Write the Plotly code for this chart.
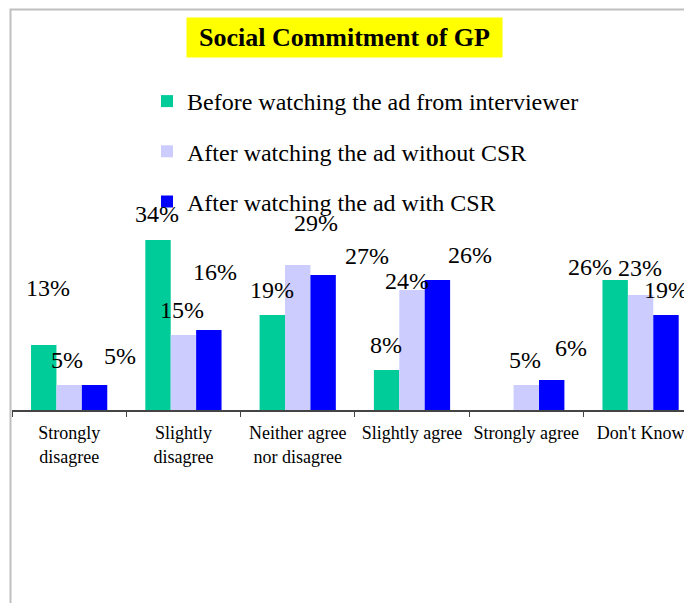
import plotly.graph_objects as go

categories = ["Strongly<br>disagree", "Slightly<br>disagree", "Neither agree<br>nor disagree",
              "Slightly agree", "Strongly agree", "Don't Know"]
series_names = ["Before watching the ad from interviewer",
                "After watching the ad without CSR",
                "After watching the ad with CSR"]
before_vals = [13, 34, 19, 8, 0, 26]
without_csr_vals = [5, 15, 29, 24, 5, 23]
with_csr_vals = [5, 16, 27, 26, 6, 19]

colors = ["#00CC99", "#CCCCFF", "#0000FF"]
# label offsets (px) relative to each bar's top-centre: (dx, dy up)
label_offsets = [
    [(4, 57), (-1, 26), (0, 25), (-1, 25), None, (-25, 13)],
    [(-2, 25), (-1, 25), (18, 42), (-5, 9), (-1, 25), (-1, 27)],
    [(25, 29), (6, 58), (44, 19), (33, 25), (19, 32), (0, 25)],
]

FONT = "Liberation Serif, Times New Roman, serif"
W, H = 692, 603
PAGE_OFF = 8  # default body margin of the html page
ML, MR, MT, MB = 12 - PAGE_OFF, PAGE_OFF, 60 - PAGE_OFF, 193 + PAGE_OFF
BARGAP = 0.333
XR = [-0.5, 5.45]
YR = [0, 70]
plot_w = W - ML - MR
plot_h = H - MT - MB
unit_px = plot_w / (XR[1] - XR[0])
bar_w = unit_px * (1 - BARGAP) / 3

all_vals = [before_vals, without_csr_vals, with_csr_vals]

fig = go.Figure()
for k, (name, vals) in enumerate(zip(series_names, all_vals)):
    fig.add_trace(go.Bar(
        x=categories, y=vals, name=name, legendgroup=f"g{k}",
        marker=dict(color=colors[k], line=dict(width=0)),
    ))

annotations = []
for k, vals in enumerate(all_vals):
    for i, v in enumerate(vals):
        off = label_offsets[k][i]
        if off is None:
            continue
        annotations.append(dict(
            x=categories[i], y=v, xref="x", yref="y", text=f"{v}%",
            showarrow=False, xanchor="center", yanchor="middle",
            xshift=(k - 1) * bar_w + off[0], yshift=off[1],
            font=dict(family=FONT, size=24, color="black"),
        ))

# convert on-screen pixel positions to paper coordinates
def px_x(px):
    return (px - PAGE_OFF - ML) / plot_w

def px_y(py):
    return (H - MB - (py - PAGE_OFF)) / plot_h

annotations.append(dict(
    x=px_x(344.5), y=px_y(37.5), xref="paper", yref="paper",
    text="<b>Social Commitment of GP</b>", showarrow=False,
    xanchor="center", yanchor="middle", width=315, height=39,
    bgcolor="#FFFF00", borderpad=0,
    font=dict(family=FONT, size=26, color="black"),
))

shapes = [dict(
    type="rect", xref="paper", yref="paper",
    x0=px_x(10.5), x1=px_x(800), y0=px_y(800), y1=px_y(9.5),
    line=dict(color="#BFBFBF", width=2), fillcolor="rgba(0,0,0,0)", layer="above",
)]

fig.update_layout(
    width=W, height=H,
    margin=dict(l=ML, r=MR, t=MT, b=MB, pad=0, autoexpand=False),
    paper_bgcolor="white", plot_bgcolor="white",
    barmode="group", bargap=BARGAP, bargroupgap=0,
    showlegend=True,
    legend=dict(
        x=px_x(147), y=px_y(79), xanchor="left", yanchor="top",
        font=dict(family=FONT, size=24, color="black"),
        bgcolor="rgba(0,0,0,0)", tracegroupgap=16, traceorder="grouped",
        itemclick=False,
    ),
    xaxis=dict(
        range=XR, showgrid=False, zeroline=False, showline=True,
        linecolor="#444444", linewidth=1.5, ticks="outside", ticklen=5,
        tickcolor="#444444", tickson="boundaries", tickangle=0, automargin=False,
        ticklabelstandoff=6,
        tickfont=dict(family=FONT, size=18, color="black"),
    ),
    yaxis=dict(range=YR, visible=False, automargin=False),
    annotations=annotations, shapes=shapes,
    font=dict(family=FONT),
)

fig.write_html("out.html")
